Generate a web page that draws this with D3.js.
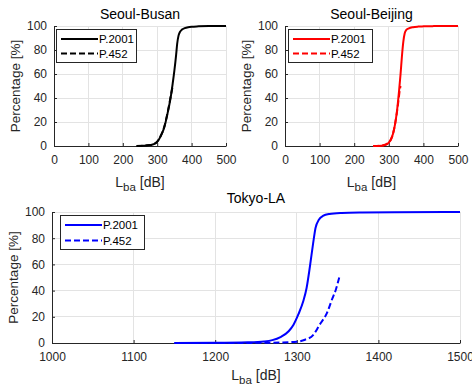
<!DOCTYPE html>
<html><head><meta charset="utf-8">
<script src="https://cdn.jsdelivr.net/npm/d3@7"></script>
<style>
html,body{margin:0;padding:0;background:#fff;}
svg{display:block;font-family:"Liberation Sans",Arial,Helvetica,sans-serif;}
</style></head>
<body>
<svg id="c" width="472" height="385"></svg>
<script>
// ---- data ----
const seriesNames = ["P.2001", "P.452"];
const titles = ["Seoul-Busan", "Seoul-Beijing", "Tokyo-LA"];
const colors = ["#000000", "#ff0000", "#0000ff"];

const xTicksTop = [0, 100, 200, 300, 400, 500];
const xTicksBottom = [1000, 1100, 1200, 1300, 1400, 1500];
const yTicks = [0, 20, 40, 60, 80, 100];

const busanP2001X = [240, 260, 280, 290, 300, 310, 320, 330, 340, 345, 350, 355, 358, 362, 366, 372, 380, 390, 400, 420, 450, 500];
const busanP2001Y = [0, 0.2, 0.8, 1.5, 3.5, 8, 15, 27, 42, 52, 63, 76, 85, 92, 95, 97, 98.2, 99, 99.4, 99.7, 99.9, 100];
const busanP452X = [240, 260, 280, 290, 300, 310, 320, 330, 340, 345];
const busanP452Y = [0, 0.2, 0.8, 1.6, 3.7, 8.3, 15.5, 27.5, 42.5, 50];

const beijingP2001X = [255, 270, 285, 295, 305, 312, 318, 324, 330, 334, 338, 342, 346, 350, 358, 370, 385, 400, 430, 470, 500];
const beijingP2001Y = [0, 0.1, 0.5, 1.5, 5, 10, 18, 30, 47, 60, 75, 87, 94, 96.5, 98, 99, 99.5, 99.7, 99.9, 100, 100];
const beijingP452X = [255, 280, 300, 310, 318, 324, 328, 332, 334];
const beijingP452Y = [0, 0.4, 3, 8, 18, 29, 38, 47, 50];

const tokyoP2001X = [1150, 1200, 1240, 1260, 1270, 1280, 1290, 1296, 1302, 1308, 1312, 1316, 1320, 1323, 1327, 1332, 1340, 1355, 1380, 1420, 1500];
const tokyoP2001Y = [0, 0.1, 0.5, 1.2, 2.2, 4.5, 9, 14, 22, 32, 42, 58, 76, 88, 94, 97, 98.5, 99.3, 99.7, 99.9, 100];
const tokyoP452X = [1150, 1200, 1250, 1280, 1300, 1310, 1320, 1328, 1337, 1343, 1348, 1352];
const tokyoP452Y = [0, 0, 0.1, 0.4, 1, 2.5, 6, 14, 23, 33, 41, 50];

// ---- layout ----
const panels = [
  {title: titles[0], color: colors[0], x0: 54, x1: 226, y0: 146, y1: 26, dom: [0, 500], ticks: xTicksTop,
   s1: [busanP2001X, busanP2001Y], s2: [busanP452X, busanP452Y],
   leg: {x: 56, y: 29, w: 80, h: 33}, ylabX: 15, titleY: 19, xlabY: 187},
  {title: titles[1], color: colors[1], x0: 285, x1: 458, y0: 146, y1: 26, dom: [0, 500], ticks: xTicksTop,
   s1: [beijingP2001X, beijingP2001Y], s2: [beijingP452X, beijingP452Y],
   leg: {x: 288, y: 29, w: 84, h: 33}, ylabX: 246, titleY: 19, xlabY: 187},
  {title: titles[2], color: colors[2], x0: 52, x1: 460, y0: 343, y1: 212, dom: [1000, 1500], ticks: xTicksBottom,
   s1: [tokyoP2001X, tokyoP2001Y], s2: [tokyoP452X, tokyoP452Y],
   leg: {x: 60, y: 215, w: 84, h: 34}, ylabX: 13, titleY: 203, xlabY: 380}
];

const svg = d3.select("#c");
const axisCol = "#262626";
const gridCol = "#e3e3e3";
const fmt = d3.format("d");

panels.forEach(p => {
  const x = d3.scaleLinear().domain(p.dom).range([p.x0, p.x1]);
  const y = d3.scaleLinear().domain([0, 100]).range([p.y0, p.y1]);
  const g = svg.append("g");

  // grid
  g.selectAll(".gx").data(p.ticks).enter().append("line")
    .attr("x1", d => x(d)).attr("x2", d => x(d)).attr("y1", p.y0).attr("y2", p.y1)
    .attr("stroke", gridCol).attr("stroke-width", 1).attr("shape-rendering", "crispEdges");
  g.selectAll(".gy").data(yTicks).enter().append("line")
    .attr("x1", p.x0).attr("x2", p.x1).attr("y1", d => y(d)).attr("y2", d => y(d))
    .attr("stroke", gridCol).attr("stroke-width", 1).attr("shape-rendering", "crispEdges");

  // axes
  const xa = g.append("g").attr("transform", `translate(0,${p.y0})`)
    .call(d3.axisBottom(x).tickValues(p.ticks).tickFormat(fmt).tickSizeInner(-3).tickSizeOuter(0).tickPadding(9));
  const ya = g.append("g").attr("transform", `translate(${p.x0},0)`)
    .call(d3.axisLeft(y).tickValues(yTicks).tickFormat(fmt).tickSizeInner(-3).tickSizeOuter(0).tickPadding(7));
  [xa, ya].forEach(a => {
    a.selectAll("path").attr("stroke", axisCol).attr("stroke-width", 1);
    a.selectAll("line").attr("stroke", axisCol);
    a.selectAll("text").attr("fill", axisCol).style("font-size", "12px")
      .style("font-family", '"Liberation Sans",Arial,sans-serif');
  });
  xa.selectAll("text").attr("dy", "0.71em");

  // lines
  const line = d3.line().x(d => x(d[0])).y(d => y(d[1])).curve(d3.curveMonotoneX);
  const d1 = p.s1[0].map((v, i) => [v, p.s1[1][i]]);
  const d2 = p.s2[0].map((v, i) => [v, p.s2[1][i]]);
  g.append("path").datum(d2).attr("d", line).attr("fill", "none")
    .attr("stroke", p.color).attr("stroke-width", 2).attr("stroke-dasharray", "6,3");
  g.append("path").datum(d1).attr("d", line).attr("fill", "none")
    .attr("stroke", p.color).attr("stroke-width", 2);

  // title
  g.append("text").attr("x", (p.x0 + p.x1) / 2).attr("y", p.titleY).attr("text-anchor", "middle")
    .style("font-size", "14px").attr("fill", "#000").text(p.title);

  // y label
  g.append("text").attr("transform", `translate(${p.ylabX},${(p.y0 + p.y1) / 2}) rotate(-90)`)
    .attr("text-anchor", "middle").attr("dy", "0.35em")
    .style("font-size", "13.5px").attr("fill", axisCol).text("Percentage [%]");

  // x label
  const xl = g.append("text").attr("x", (p.x0 + p.x1) / 2).attr("y", p.xlabY).attr("text-anchor", "middle")
    .style("font-size", "14px").attr("fill", axisCol);
  xl.append("tspan").text("L");
  xl.append("tspan").attr("dy", 4).style("font-size", "11.5px").text("ba");
  xl.append("tspan").attr("dy", -4).text(" [dB]");

  // legend
  const L = p.leg;
  const lg = g.append("g");
  lg.append("rect").attr("x", L.x + 0.5).attr("y", L.y + 0.5).attr("width", L.w).attr("height", L.h)
    .attr("fill", "#fff").attr("stroke", axisCol).attr("stroke-width", 1);
  seriesNames.forEach((nm, i) => {
    const ry = L.y + 10 + i * (L.h - 19) + 0.5 * i;
    lg.append("line").attr("x1", L.x + 5).attr("x2", L.x + 42).attr("y1", ry).attr("y2", ry)
      .attr("stroke", p.color).attr("stroke-width", 2)
      .attr("stroke-dasharray", i === 1 ? "6,3" : null);
    lg.append("text").attr("x", L.x + 43).attr("y", ry).attr("dy", "0.35em")
      .style("font-size", "11.5px").attr("fill", "#000").text(nm);
  });
});
</script>
</body></html>
